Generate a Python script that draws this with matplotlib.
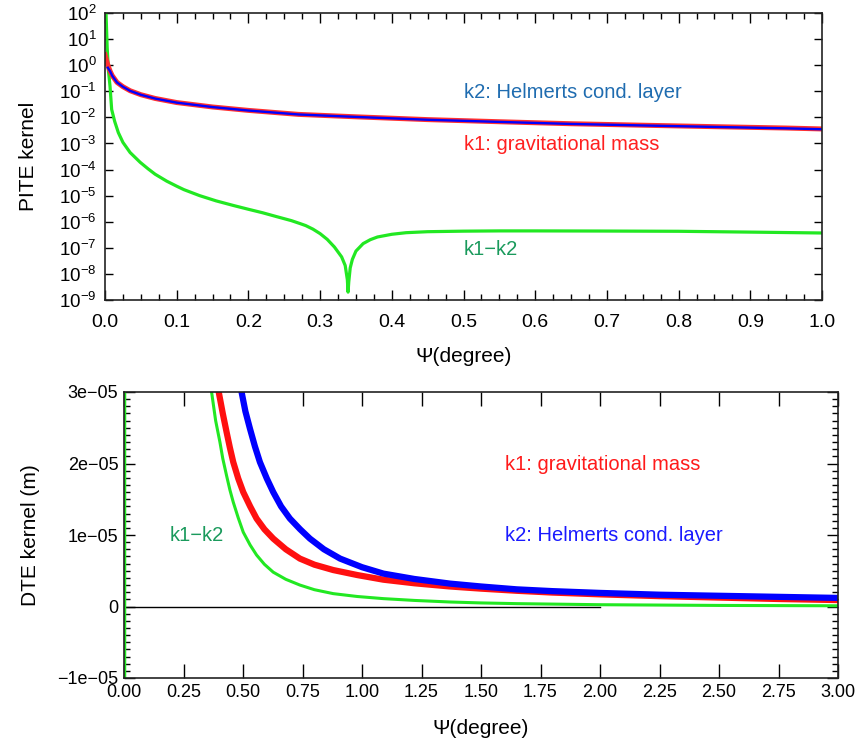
import numpy as np
import matplotlib
matplotlib.use("Agg")
import matplotlib.pyplot as plt
from matplotlib.ticker import MultipleLocator, FixedLocator, FixedFormatter, LogLocator, NullLocator

plt.rcParams['font.family'] = ['Liberation Sans', 'DejaVu Sans']

# ---------------- PITE kernel (top panel) ----------------
pite_psi_k1 = [0.0, 0.002, 0.004, 0.007, 0.01, 0.0167, 0.025, 0.035, 0.05, 0.07, 0.1,
               0.15, 0.2, 0.27, 0.35, 0.45, 0.55, 0.65, 0.75, 0.85, 0.95, 1.0]
pite_k1 = [2.5, 1.6, 1.0, 0.6, 0.4, 0.22, 0.15, 0.105, 0.074, 0.053, 0.037,
           0.025, 0.0185, 0.013, 0.0105, 0.0082, 0.0068, 0.0057, 0.005, 0.0044, 0.0039, 0.0036]

pite_psi_k2 = [0.004, 0.007, 0.01, 0.0167, 0.025, 0.035, 0.05, 0.07, 0.1,
               0.15, 0.2, 0.27, 0.35, 0.45, 0.55, 0.65, 0.75, 0.85, 0.95, 1.0]
pite_k2 = [0.8, 0.595, 0.397, 0.218, 0.149, 0.104, 0.0733, 0.0525, 0.0367,
           0.0248, 0.0183, 0.0129, 0.0104, 0.0081, 0.0067, 0.0056, 0.0049, 0.0043, 0.0038, 0.0035]

pite_psi_diff = [0.0012, 0.003, 0.0047, 0.007, 0.0093, 0.0135, 0.0186, 0.025, 0.035, 0.049,
                 0.06, 0.07, 0.086, 0.1, 0.11, 0.132, 0.155, 0.179, 0.2, 0.22, 0.24, 0.26,
                 0.272, 0.28, 0.29, 0.30, 0.31, 0.32, 0.33, 0.335, 0.338, 0.339, 0.340, 0.342,
                 0.345, 0.35, 0.36, 0.37, 0.38, 0.40, 0.42, 0.45, 0.5, 0.55, 0.6, 0.69,
                 0.8, 0.9, 1.0]
pite_diff = [150.0, 5.0, 0.66, 0.155, 0.02, 7e-3, 2.6e-3, 1.1e-3, 4.5e-4, 1.9e-4,
             1.07e-4, 6.6e-5, 3.6e-5, 2.3e-5, 1.7e-5, 1.0e-5, 6.3e-6, 4.2e-6, 3.0e-6, 2.2e-6,
             1.55e-6, 1.1e-6, 8.5e-7, 7.1e-7, 5.2e-7, 3.5e-7, 2.1e-7, 1.07e-7, 4.5e-8, 2.1e-8,
             6e-9, 2e-9, 5e-9, 1.7e-8, 3.6e-8, 7.5e-8, 1.45e-7, 2.05e-7, 2.6e-7, 3.3e-7,
             3.8e-7, 4.15e-7, 4.35e-7, 4.45e-7, 4.45e-7, 4.4e-7, 4.3e-7, 4.0e-7, 3.7e-7]

# ---------------- DTE kernel (bottom panel) ----------------
dte_psi_k1 = [0.37, 0.398, 0.415, 0.431, 0.445, 0.459, 0.48, 0.501, 0.53, 0.557, 0.59,
              0.627, 0.68, 0.739, 0.8, 0.879, 0.98, 1.09, 1.22, 1.37, 1.5, 1.65, 1.8,
              2.0, 2.25, 2.5, 2.75, 3.0]
dte_k1 = [3.6e-5, 3.0e-5, 2.7e-5, 2.44e-5, 2.22e-5, 2.02e-5, 1.79e-5, 1.60e-5, 1.40e-5,
          1.23e-5, 1.08e-5, 0.95e-5, 0.80e-5, 0.67e-5, 0.585e-5, 0.51e-5, 0.44e-5,
          0.375e-5, 0.325e-5, 0.28e-5, 0.25e-5, 0.22e-5, 0.195e-5, 0.17e-5, 0.145e-5,
          0.125e-5, 0.105e-5, 0.09e-5]

dte_psi_k2 = [0.46, 0.494, 0.51, 0.529, 0.55, 0.571, 0.6, 0.627, 0.66, 0.697, 0.74, 0.781,
              0.84, 0.908, 1.0, 1.09, 1.22, 1.37, 1.5, 1.65, 1.8, 2.0, 2.25, 2.5, 2.75, 3.0]
dte_k2 = [3.6e-5, 3.0e-5, 2.73e-5, 2.49e-5, 2.24e-5, 2.02e-5, 1.79e-5, 1.60e-5, 1.40e-5,
          1.23e-5, 1.08e-5, 0.95e-5, 0.80e-5, 0.67e-5, 0.55e-5, 0.46e-5, 0.385e-5,
          0.32e-5, 0.28e-5, 0.24e-5, 0.215e-5, 0.19e-5, 0.165e-5, 0.15e-5, 0.135e-5, 0.12e-5]

dte_psi_diff = [0.003, 0.004, 0.1, 0.2, 0.3, 0.34, 0.368, 0.385, 0.403, 0.415, 0.431, 0.445,
                0.459, 0.48, 0.501, 0.53, 0.557, 0.59, 0.627, 0.68, 0.739, 0.8, 0.879,
                0.98, 1.09, 1.22, 1.37, 1.5, 1.65, 2.0, 2.5, 3.0]
dte_diff = [-5e-5, 1e-3, 5e-4, 1.2e-4, 4.8e-5, 3.6e-5, 3.0e-5, 2.6e-5, 2.30e-5, 2.07e-5,
            1.83e-5, 1.63e-5, 1.46e-5, 1.24e-5, 1.04e-5, 0.86e-5, 0.72e-5, 0.59e-5,
            0.48e-5, 0.38e-5, 0.30e-5, 0.235e-5, 0.18e-5, 0.14e-5, 0.11e-5, 0.085e-5,
            0.063e-5, 0.05e-5, 0.04e-5, 0.025e-5, 0.015e-5, 0.01e-5]

zero_line_x = [0.0, 2.0]
zero_line_y = [0.0, 0.0]

top_xticks = [0.0, 0.1, 0.2, 0.3, 0.4, 0.5, 0.6, 0.7, 0.8, 0.9, 1.0]
bot_xticks = [0.0, 0.25, 0.5, 0.75, 1.0, 1.25, 1.5, 1.75, 2.0, 2.25, 2.5, 2.75, 3.0]
bot_yticks = [-1e-5, 0.0, 1e-5, 2e-5, 3e-5]
bot_yticklabels = ["\u22121e\u221205", "0", "1e\u221205", "2e\u221205", "3e\u221205"]

RED = '#ff1010'
BLUE = '#0000ff'
GREEN = '#22e822'

fig = plt.figure(figsize=(8.59, 7.52), dpi=100)
ax1 = fig.add_axes([105/859, 1-300/752, (822-105)/859, (300-13)/752])
ax2 = fig.add_axes([124/859, 1-678/752, (838-124)/859, (678-392)/752])

annfs = 14.5
labfs = 15

# top panel
ax1.plot(pite_psi_diff, pite_diff, color=GREEN, lw=2.3)
ax1.plot(pite_psi_k1, pite_k1, color='#ff3030', lw=3.6)
ax1.plot(pite_psi_k2, pite_k2, color=BLUE, lw=1.7)
ax1.set_yscale('log')
ax1.set_xlim(0, 1.0)
ax1.set_ylim(1e-9, 1e2)
ax1.set_xticks(top_xticks)
ax1.set_xticklabels([f"{v:.1f}" for v in top_xticks])
ax1.xaxis.set_minor_locator(MultipleLocator(0.025))
ax1.yaxis.set_major_locator(LogLocator(base=10, numticks=20))
ax1.yaxis.set_minor_locator(NullLocator())
ax1.tick_params(which='both', direction='in', top=True, right=True)
ax1.tick_params(axis='x', which='major', length=7, width=1, pad=10, labelsize=14)
ax1.tick_params(axis='y', which='major', length=6, width=1, pad=6, labelsize=13.5)
ax1.tick_params(which='minor', length=4, width=1)
ax1.set_xlabel("\u03a8(degree)", fontsize=labfs)
ax1.set_ylabel("PITE kernel", fontsize=labfs)
ax1.xaxis.set_label_coords(0.5, -0.165)
ax1.yaxis.set_label_coords(-0.093, 0.5)
ax1.text(0.5, 10**-1.05, "k2: Helmerts cond. layer", color='#1f6cb0', fontsize=annfs, va='center')
ax1.text(0.5, 10**-3.04, "k1: gravitational mass", color='#ff2020', fontsize=annfs, va='center')
ax1.text(0.5, 10**-7.05, "k1\u2212k2", color='#1a9a5c', fontsize=annfs, va='center')

# bottom panel
ax2.plot(zero_line_x, zero_line_y, color='black', lw=1.0)
ax2.plot(dte_psi_diff, dte_diff, color=GREEN, lw=2.2)
ax2.plot(dte_psi_k1, dte_k1, color=RED, lw=4.5)
ax2.plot(dte_psi_k2, dte_k2, color=BLUE, lw=4.5)
ax2.set_xlim(0, 3.0)
ax2.set_ylim(-1e-5, 3e-5)
ax2.set_xticks(bot_xticks)
ax2.set_xticklabels([f"{v:.2f}" for v in bot_xticks])
ax2.yaxis.set_major_locator(FixedLocator(bot_yticks))
ax2.yaxis.set_major_formatter(FixedFormatter(bot_yticklabels))
ax2.yaxis.set_minor_locator(MultipleLocator(1e-6))
ax2.tick_params(which='both', direction='in', top=True, right=True, labelsize=13)
ax2.tick_params(axis='x', which='major', length=10, width=1, pad=4)
ax2.tick_params(axis='y', which='major', length=8, width=1, pad=4)
ax2.tick_params(axis='y', which='minor', length=4, width=1)
ax2.set_xlabel("\u03a8(degree)", fontsize=labfs)
ax2.set_ylabel("DTE kernel (m)", fontsize=labfs)
ax2.xaxis.set_label_coords(0.5, -0.143)
ax2.yaxis.set_label_coords(-0.118, 0.5)
ax2.text(1.60, 1.98e-5, "k1: gravitational mass", color='#ff1a1a', fontsize=annfs, va='center')
ax2.text(1.60, 0.99e-5, "k2: Helmerts cond. layer", color='#1a1aff', fontsize=annfs, va='center')
ax2.text(0.193, 0.99e-5, "k1\u2212k2", color='#1a9a5c', fontsize=annfs, va='center')

for ax in (ax1, ax2):
    for s in ax.spines.values():
        s.set_color('#222222')
        s.set_linewidth(1.2)

fig.savefig("out.png", dpi=100)
